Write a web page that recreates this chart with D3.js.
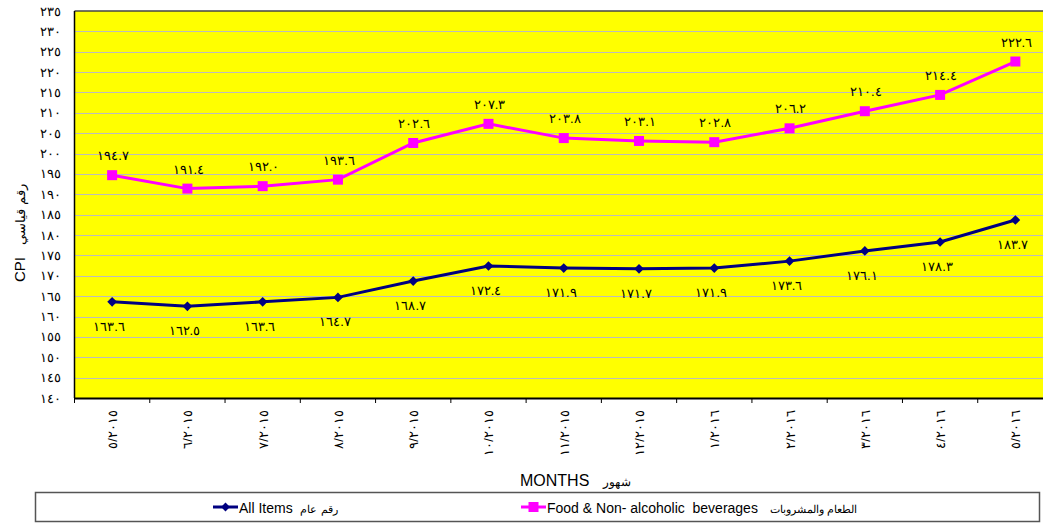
<!DOCTYPE html>
<html>
<head>
<meta charset="utf-8">
<script src="https://cdn.jsdelivr.net/npm/d3@7"></script>
<style>
  body { margin: 0; background: #fff; }
  svg text { font-family: "Liberation Sans", Arial, sans-serif; }
</style>
</head>
<body>
<div id="chart"></div>
<script>
// Data
var months = ["٥/٢٠١٥", "٦/٢٠١٥", "٧/٢٠١٥", "٨/٢٠١٥", "٩/٢٠١٥", "١٠/٢٠١٥", "١١/٢٠١٥",
              "١٢/٢٠١٥", "١/٢٠١٦", "٢/٢٠١٦", "٣/٢٠١٦", "٤/٢٠١٦", "٥/٢٠١٦"];
var allItems = [163.6, 162.5, 163.6, 164.7, 168.7, 172.4, 171.9, 171.7, 171.9, 173.6, 176.1, 178.3, 183.7];
var foodBev = [194.7, 191.4, 192.0, 193.6, 202.6, 207.3, 203.8, 203.1, 202.8, 206.2, 210.4, 214.4, 222.6];
var yTicks = d3.range(140, 236, 5);

var svgWidth = 1043;
var svgHeight = 526;

// plot area (right edge runs past the window, as in the original)
var margin = { top: 11, left: 74.5, right: -10, bottom: 128 };
var width = svgWidth - margin.left - margin.right;
var height = svgHeight - margin.top - margin.bottom;

// western digits -> arabic-indic
function arDigits(s) {
  return String(s).replace(/[0-9]/g, function (c) { return "٠١٢٣٤٥٦٧٨٩"[+c]; });
}

var svg = d3.select("#chart")
  .append("svg")
  .attr("width", svgWidth)
  .attr("height", svgHeight);

var chartGroup = svg.append("g")
  .attr("transform", `translate(${margin.left}, ${margin.top})`);

var x = d3.scaleBand().domain(months).range([0, width]);
var y = d3.scaleLinear().domain([140, 235]).range([height, 0]);

// background
chartGroup.append("rect")
  .attr("width", width)
  .attr("height", height)
  .attr("fill", "#ffff00");

// gridlines
chartGroup.append("g")
  .selectAll("line")
  .data(yTicks.slice(1, -1))
  .enter()
  .append("line")
  .attr("x1", 0)
  .attr("x2", width)
  .attr("y1", d => Math.round(y(d)) + 0.5)
  .attr("y2", d => Math.round(y(d)) + 0.5)
  .attr("stroke", "#bcbcbc")
  .attr("stroke-width", 1.2);

// top border + left axis line
chartGroup.append("line")
  .attr("x1", 0).attr("x2", width)
  .attr("y1", y(235)).attr("y2", y(235))
  .attr("stroke", "#444").attr("stroke-width", 1.5);
chartGroup.append("line")
  .attr("x1", 0).attr("x2", 0)
  .attr("y1", 0).attr("y2", height)
  .attr("stroke", "#000").attr("stroke-width", 1.5);

// y tick labels
chartGroup.append("g")
  .selectAll("text")
  .data(yTicks)
  .enter()
  .append("text")
  .attr("x", -14)
  .attr("y", d => y(d))
  .attr("dy", "0.35em")
  .attr("text-anchor", "end")
  .attr("font-family", "DejaVu Sans")
  .attr("font-size", "13px")
  .attr("letter-spacing", "1.5px")
  .attr("fill", "#000")
  .text(d => arDigits(d));

// x axis
var bottomAxis = d3.axisBottom(x).tickSize(0).tickFormat("");
var xAxis = chartGroup.append("g")
  .attr("transform", `translate(0, ${height})`)
  .call(bottomAxis);
xAxis.select(".domain").attr("stroke", "#000").attr("stroke-width", 2);

// tick marks sit between the months
xAxis.selectAll(".edge")
  .data(months)
  .enter()
  .append("line")
  .attr("class", "edge")
  .attr("x1", d => x(d))
  .attr("x2", d => x(d))
  .attr("y1", 0)
  .attr("y2", 5)
  .attr("stroke", "#000");

xAxis.selectAll(".mlabel")
  .data(months)
  .enter()
  .append("text")
  .attr("class", "mlabel")
  .attr("transform", d => `translate(${x(d) + x.bandwidth() / 2 + 5}, 12) rotate(-90)`)
  .attr("text-anchor", "end")
  .attr("direction", "ltr")
  .attr("font-family", "DejaVu Sans")
  .attr("font-size", "13px")
  .attr("letter-spacing", "1px")
  .attr("fill", "#000")
  .text(d => d);

// lines
var line = d3.line()
  .x((d, i) => x(months[i]) + x.bandwidth() / 2)
  .y(d => y(d));

chartGroup.append("path")
  .datum(foodBev)
  .attr("d", line)
  .attr("fill", "none")
  .attr("stroke", "#ff00ff")
  .attr("stroke-width", 3);

chartGroup.append("path")
  .datum(allItems)
  .attr("d", line)
  .attr("fill", "none")
  .attr("stroke", "#000080")
  .attr("stroke-width", 3);

// markers
chartGroup.selectAll(".sq")
  .data(foodBev)
  .enter()
  .append("rect")
  .attr("class", "sq")
  .attr("x", (d, i) => x(months[i]) + x.bandwidth() / 2 - 5)
  .attr("y", d => y(d) - 5)
  .attr("width", 10)
  .attr("height", 10)
  .attr("fill", "#ff00ff");

chartGroup.selectAll(".dm")
  .data(allItems)
  .enter()
  .append("path")
  .attr("class", "dm")
  .attr("d", d3.symbol(d3.symbolDiamond2, 60))
  .attr("transform", (d, i) => `translate(${x(months[i]) + x.bandwidth() / 2}, ${y(d)})`)
  .attr("fill", "#000080");

// data labels
chartGroup.selectAll(".fl")
  .data(foodBev)
  .enter()
  .append("text")
  .attr("class", "fl")
  .attr("x", (d, i) => x(months[i]) + x.bandwidth() / 2 + 1)
  .attr("y", d => y(d) - 15)
  .attr("text-anchor", "middle")
  .attr("direction", "ltr")
  .attr("font-family", "DejaVu Sans")
  .attr("font-size", "13px")
  .attr("letter-spacing", "1.2px")
  .attr("fill", "#000")
  .text(d => arDigits(d.toFixed(1)));

chartGroup.selectAll(".al")
  .data(allItems)
  .enter()
  .append("text")
  .attr("class", "al")
  .attr("x", (d, i) => x(months[i]) + x.bandwidth() / 2 - 3)
  .attr("y", d => y(d) + 29)
  .attr("text-anchor", "middle")
  .attr("direction", "ltr")
  .attr("font-family", "DejaVu Sans")
  .attr("font-size", "13px")
  .attr("letter-spacing", "1.2px")
  .attr("fill", "#000")
  .text(d => arDigits(d.toFixed(1)));

// axis titles
var yTitle = svg.append("text")
  .attr("transform", "translate(25, 233) rotate(-90)")
  .attr("text-anchor", "middle")
  .attr("direction", "ltr")
  .attr("fill", "#000");
yTitle.append("tspan").attr("font-size", "15px").text("CPI\u00a0\u00a0\u00a0");
yTitle.append("tspan").attr("font-size", "13px").text("رقم قياسي");

var xTitle = svg.append("text")
  .attr("x", 520)
  .attr("y", 486)
  .attr("direction", "ltr")
  .attr("fill", "#000");
xTitle.append("tspan").attr("font-size", "16px").text("MONTHS\u00a0\u00a0\u00a0");
xTitle.append("tspan").attr("font-size", "12px").text("شهور");

// legend
var legend = svg.append("g");
legend.append("rect")
  .attr("x", 35.5)
  .attr("y", 492.5)
  .attr("width", 1004)
  .attr("height", 29)
  .attr("fill", "#fff")
  .attr("stroke", "#555")
  .attr("stroke-width", 1.5);

var legItems = [
  { x: 213, color: "#000080", shape: "diamond", label: "All Items\u00a0\u00a0", ar: "رقم عام" },
  { x: 521, color: "#ff00ff", shape: "square", label: "Food & Non- alcoholic\u00a0\u00a0beverages\u00a0\u00a0\u00a0", ar: "الطعام والمشروبات" }
];

legItems.forEach(function (it) {
  var g = legend.append("g").attr("transform", `translate(${it.x}, 507)`);
  g.append("line").attr("x1", 0).attr("x2", 25).attr("stroke", it.color).attr("stroke-width", 3);
  if (it.shape === "square") {
    g.append("rect").attr("x", 7.5).attr("y", -5).attr("width", 10).attr("height", 10).attr("fill", it.color);
  } else {
    g.append("path").attr("d", d3.symbol(d3.symbolDiamond2, 50)).attr("transform", "translate(12.5,0)").attr("fill", it.color);
  }
  var t = g.append("text")
    .attr("x", 26)
    .attr("dy", "0.35em")
    .attr("direction", "ltr")
    .attr("fill", "#000");
  t.append("tspan").attr("font-size", "14px").text(it.label);
  t.append("tspan").attr("font-size", "11px").text(it.ar);
});
</script>
</body>
</html>
